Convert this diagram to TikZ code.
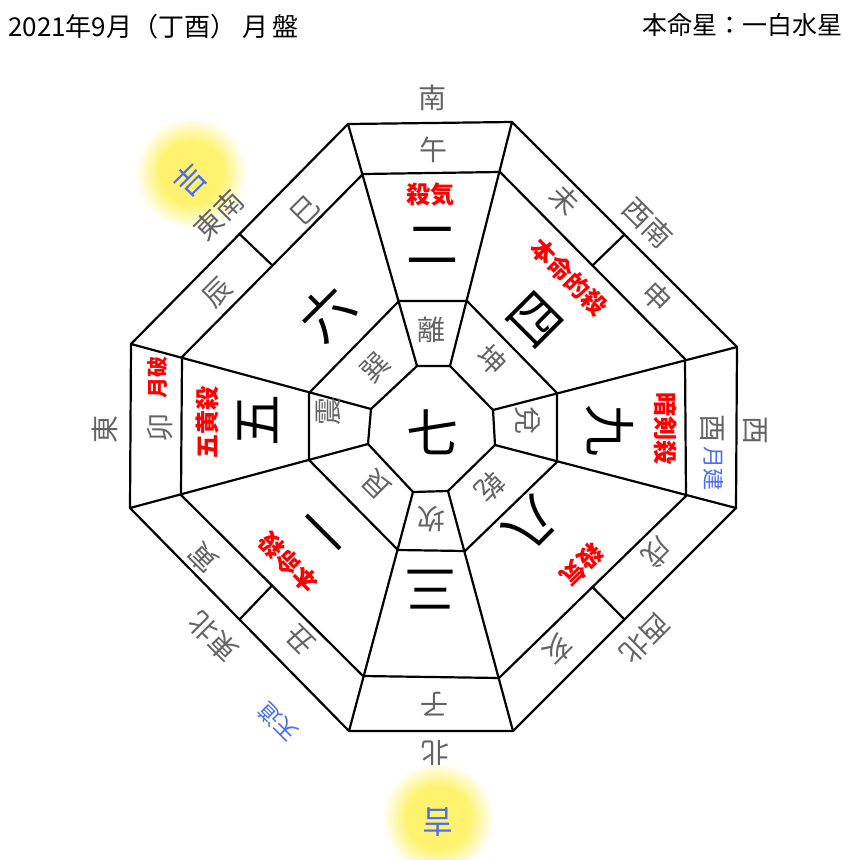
\documentclass[tikz,border=0pt]{standalone}
\usepackage{fontspec}
\usepackage{tikz}
\usetikzlibrary{calc}
\newfontfamily\jp{Noto Sans CJK JP}
\definecolor{signgray}{RGB}{100,100,100}
\definecolor{badred}{RGB}{255,0,0}
\definecolor{goodblue}{RGB}{74,108,246}
\definecolor{glowyellow}{RGB}{255,242,110}
\pgfdeclareradialshading{glow}{\pgfpointorigin}{color(0bp)=(glowyellow); color(14bp)=(glowyellow); color(25bp)=(white); color(50bp)=(white)}

\begin{document}
\begin{tikzpicture}[x=1pt, y=-1pt,
	every node/.style={inner sep=0pt, font=\jp},
	frame/.style={draw=black, line width=2.2pt, line join=miter},
	sign/.style={text=signgray, font=\jp\fontsize{28}{28}\selectfont},
	star/.style={text=black, font=\jp\fontsize{52}{52}\selectfont},
	bad/.style={text=badred, font=\jp\bfseries\fontsize{24}{24}\selectfont},
	good/.style={text=goodblue, font=\jp\fontsize{22}{22}\selectfont},
	luck/.style={text=goodblue, font=\jp\fontsize{31}{31}\selectfont},
	head/.style={text=black, font=\jp\fontsize{26}{26}\selectfont}]
	\useasboundingbox (0,0) rectangle (860,860);

	\shade[shading=glow] (191,173) circle (56pt);
	\shade[shading=glow] (438,818) circle (56pt);

	\coordinate (o1) at (348,124);
	\coordinate (o2) at (512,122);
	\coordinate (o3) at (737,347);
	\coordinate (o4) at (736,508);
	\coordinate (o5) at (513,731);
	\coordinate (o6) at (349,731);
	\coordinate (o7) at (130,508);
	\coordinate (o8) at (131,344);

	\coordinate (m1) at (363,174);
	\coordinate (m2) at (500,172);
	\coordinate (m3) at (685,359);
	\coordinate (m4) at (686,496);
	\coordinate (m5) at (499,678);
	\coordinate (m6) at (363,676);
	\coordinate (m7) at (181,495);
	\coordinate (m8) at (182,357);

	\coordinate (i1) at (399,301);
	\coordinate (i2) at (467,301);
	\coordinate (i3) at (557,393);
	\coordinate (i4) at (557,462);
	\coordinate (i5) at (465,551);
	\coordinate (i6) at (398,550);
	\coordinate (i7) at (309,460);
	\coordinate (i8) at (309,393);

	\coordinate (c1) at (417,366);
	\coordinate (c2) at (450,366);
	\coordinate (c3) at (493,410);
	\coordinate (c4) at (495,445);
	\coordinate (c5) at (448,491);
	\coordinate (c6) at (413,492);
	\coordinate (c7) at (368,444);
	\coordinate (c8) at (371,409);

	\coordinate (t1) at ($(o8)!0.5!(o1)$);
	\coordinate (u1) at ($(m8)!0.5!(m1)$);
	\coordinate (t2) at ($(o2)!0.5!(o3)$);
	\coordinate (u2) at ($(m2)!0.5!(m3)$);
	\coordinate (t3) at ($(o4)!0.5!(o5)$);
	\coordinate (u3) at ($(m4)!0.5!(m5)$);
	\coordinate (t4) at ($(o6)!0.5!(o7)$);
	\coordinate (u4) at ($(m6)!0.5!(m7)$);

	\foreach \r in {o,m,i,c}
		\draw[frame] (\r1) -- (\r2) -- (\r3) -- (\r4) -- (\r5) -- (\r6) -- (\r7) -- (\r8) -- cycle;
	\foreach \k in {1,...,8}
		\path[frame] (o\k) edge (c\k);
	\foreach \k in {1,...,4}
		\path[frame] (t\k) edge (u\k);

	\node[head, anchor=west] (title) at (8,27) {2021年9月（丁酉） 月\,盤};
	\node[head, anchor=east, font=\jp\fontsize{25}{25}\selectfont] (honmei) at (843,25) {本命星：一白水星};

	\node[sign] (dS) at (432,98) {南};
	\node[sign, rotate=-45] (dSW) at (648,223) {西南};
	\node[sign, rotate=-90] (dW) at (755,430) {西};
	\node[sign, rotate=-135] (dNW) at (645,639) {西北};
	\node[sign, rotate=180] (dN) at (435,753) {北};
	\node[sign, rotate=135] (dNE) at (213,637) {東北};
	\node[sign, rotate=90] (dE) at (105,429) {東};
	\node[sign, rotate=45] (dSE) at (219,215) {東南};

	\node[sign] (uma) at (433,150) {午};
	\node[sign, rotate=-45] (hitsuji) at (565,200) {未};
	\node[sign, rotate=-45] (saru) at (657,297) {申};
	\node[sign, rotate=-90] (tori) at (712,428) {酉};
	\node[sign, rotate=-135] (inu) at (657,553) {戌};
	\node[sign, rotate=-135] (i) at (558,650) {亥};
	\node[sign, rotate=180] (ne) at (434,704) {子};
	\node[sign, rotate=135] (ushi) at (300,640) {丑};
	\node[sign, rotate=135] (tora) at (203,558) {寅};
	\node[sign, rotate=90] (u) at (160,427) {卯};
	\node[sign, rotate=45] (tatsu) at (217,293) {辰};
	\node[sign, rotate=45] (mi) at (305,210) {巳};

	\node[sign] (ri) at (431,330) {離};
	\node[sign, rotate=-45] (kon) at (492,360) {坤};
	\node[sign, rotate=-90] (da) at (528,420) {兌};
	\node[sign, rotate=-135] (ken) at (490,487) {乾};
	\node[sign, rotate=180] (kan) at (431,519) {坎};
	\node[sign, rotate=135] (gon) at (377,485) {艮};
	\node[sign, rotate=90] (shin) at (328,411) {震};
	\node[sign, rotate=45] (son) at (375,367) {巽};

	\node[star] (s7) at (432,432) {七};
	\node[star] (s2) at (432,245) {二};
	\node[star, rotate=-45] (s4) at (535,320) {四};
	\node[star, rotate=-90] (s9) at (610,430) {九};
	\node[star, rotate=-135] (s8) at (531,524) {八};
	\node[star, rotate=180] (s3) at (430,590) {三};
	\node[star, rotate=135] (s1) at (330,526) {一};
	\node[star, rotate=90] (s5) at (258,420) {五};
	\node[star, rotate=45] (s6) at (327,313) {六};

	\node[bad] (sakki1) at (430,195) {殺気};
	\node[bad, rotate=-45] (tekisatsu) at (569,277) {本命的殺};
	\node[bad, rotate=-90] (anken) at (666,428) {暗剣殺};
	\node[bad, rotate=-135] (sakki2) at (582,565) {殺気};
	\node[bad, rotate=135] (honmeisatsu) at (289,562) {本命殺};
	\node[bad, rotate=90] (gooh) at (207,422) {五黄殺};
	\node[bad, rotate=90, font=\jp\bfseries\fontsize{21}{21}\selectfont] (geppa) at (158,377) {月破};

	\node[good, rotate=-90] (gekken) at (714,468) {月建};
	\node[good, rotate=135] (tendo) at (278,722) {天道};
	\node[luck, rotate=45] (kichi1) at (190,180) {吉};
	\node[luck, rotate=180] (kichi2) at (438,822) {吉};
\end{tikzpicture}
\end{document}
